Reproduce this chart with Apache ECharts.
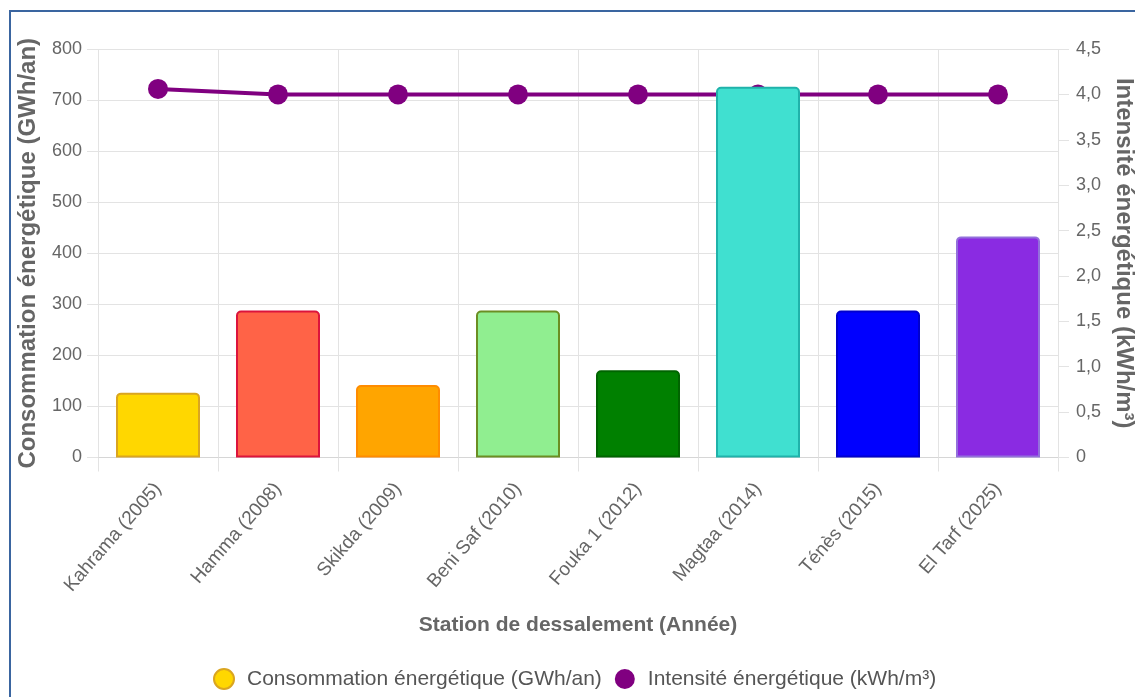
<!DOCTYPE html>
<html>
<head>
<meta charset="utf-8">
<script src="https://cdn.jsdelivr.net/npm/echarts@6/dist/echarts.min.js"></script>
<style>
  html, body { margin: 0; padding: 0; background: #fff; overflow: hidden; }
  #chart { width: 1135px; height: 697px; }
</style>
</head>
<body>
<div id="chart"></div>
<script>
// Stations de dessalement et année de mise en service
const stations = ['Kahrama (2005)', 'Hamma (2008)', 'Skikda (2009)', 'Beni Saf (2010)',
  'Fouka 1 (2012)', 'Magtaa (2014)', 'Ténès (2015)', 'El Tarf (2025)'];
// Consommation énergétique annuelle (GWh/an)
const consommation = [127, 288, 142, 288, 171, 726, 288, 433];
// Intensité énergétique (kWh/m³)
const intensite = [4.06, 4.0, 4.0, 4.0, 4.0, 4.0, 4.0, 4.0];
// Couleurs de remplissage et de contour des barres
const barFill = ['#FFD700', '#FF6347', '#FFA500', '#90EE90', '#008000', '#40E0D0', '#0000FF', '#8A2BE2'];
const barEdge = ['#DAA520', '#DC143C', '#FF8C00', '#6B8E23', '#006400', '#20B2AA', '#0000CD', '#9370DB'];

const FONT = '"Liberation Sans", Arial, sans-serif';
const GRID = '#e3e3e3';
const TXT = '#666';

const chart = echarts.init(document.getElementById('chart'), null, { renderer: 'canvas', width: 1135, height: 697 });

const fmtComma = v => (v === 0 ? '0' : v.toFixed(1).replace('.', ','));

chart.setOption({
  backgroundColor: '#fff',
  animation: false,
  textStyle: { fontFamily: FONT },
  graphic: [{
    type: 'rect',
    silent: true,
    z: 100,
    shape: { x: 10, y: 11, width: 1300, height: 900 },
    style: { fill: 'none', stroke: '#3a65a0', lineWidth: 2 }
  }],
  grid: { left: 98, right: 77, top: 49, bottom: 239.5, containLabel: false, outerBoundsMode: 'none' },
  legend: {
    left: 208,
    top: 663,
    itemWidth: 32,
    itemHeight: 20,
    itemGap: 13,
    textStyle: { fontFamily: FONT, fontSize: 21, color: '#555', padding: [0, 0, 0, 2] },
    data: [
      { name: 'Consommation énergétique (GWh/an)', icon: 'circle',
        itemStyle: { color: barFill[0], borderColor: barEdge[0], borderWidth: 2 } },
      { name: 'Intensité énergétique (kWh/m³)', icon: 'circle',
        itemStyle: { color: '#800080', borderWidth: 0 } }
    ]
  },
  xAxis: {
    type: 'category',
    data: stations,
    boundaryGap: true,
    name: 'Station de dessalement (Année)',
    nameLocation: 'middle',
    nameGap: 157,
    nameTextStyle: { fontFamily: FONT, fontSize: 21, fontWeight: 'bold', color: TXT },
    axisLine: { show: true, lineStyle: { color: '#d6d6d6', width: 1 } },
    axisTick: { show: true, alignWithLabel: false, length: 14, lineStyle: { color: GRID } },
    splitLine: { show: true, lineStyle: { color: GRID, width: 1 } },
    axisLabel: {
      rotate: 49, margin: 28, interval: 0,
      fontFamily: FONT, fontSize: 19, color: TXT
    }
  },
  yAxis: [{
    type: 'value',
    min: 0, max: 800, interval: 100,
    position: 'left',
    name: 'Consommation énergétique (GWh/an)',
    nameLocation: 'middle',
    nameGap: 58,
    nameRotate: 90,
    nameTextStyle: { fontFamily: FONT, fontSize: 24, fontWeight: 'bold', color: TXT },
    axisLine: { show: false },
    axisTick: { show: true, length: 11, lineStyle: { color: GRID } },
    splitLine: { show: true, lineStyle: { color: GRID, width: 1 } },
    axisLabel: { margin: 16, fontFamily: FONT, fontSize: 18, color: TXT }
  }, {
    type: 'value',
    min: 0, max: 4.5, interval: 0.5,
    position: 'right',
    name: 'Intensité énergétique (kWh/m³)',
    nameLocation: 'middle',
    nameGap: 53,
    nameRotate: -90,
    nameTextStyle: { fontFamily: FONT, fontSize: 24, fontWeight: 'bold', color: TXT },
    axisLine: { show: false },
    axisTick: { show: true, length: 11, lineStyle: { color: GRID } },
    splitLine: { show: false },
    axisLabel: { margin: 18, fontFamily: FONT, fontSize: 18, color: TXT, formatter: fmtComma }
  }],
  series: [{
    name: 'Consommation énergétique (GWh/an)',
    type: 'bar',
    yAxisIndex: 0,
    barWidth: 84,
    z: 3,
    itemStyle: { color: barFill[0], borderColor: barEdge[0], borderWidth: 2, borderRadius: [4, 4, 0, 0] },
    data: consommation.map((v, i) => ({
      value: v,
      itemStyle: { color: barFill[i], borderColor: barEdge[i], borderWidth: 2, borderRadius: [4, 4, 0, 0] }
    }))
  }, {
    name: 'Intensité énergétique (kWh/m³)',
    type: 'line',
    yAxisIndex: 1,
    z: 2,
    data: intensite,
    symbol: 'circle',
    symbolSize: 20,
    lineStyle: { color: '#800080', width: 4 },
    itemStyle: { color: '#800080' }
  }]
});
</script>
</body>
</html>
